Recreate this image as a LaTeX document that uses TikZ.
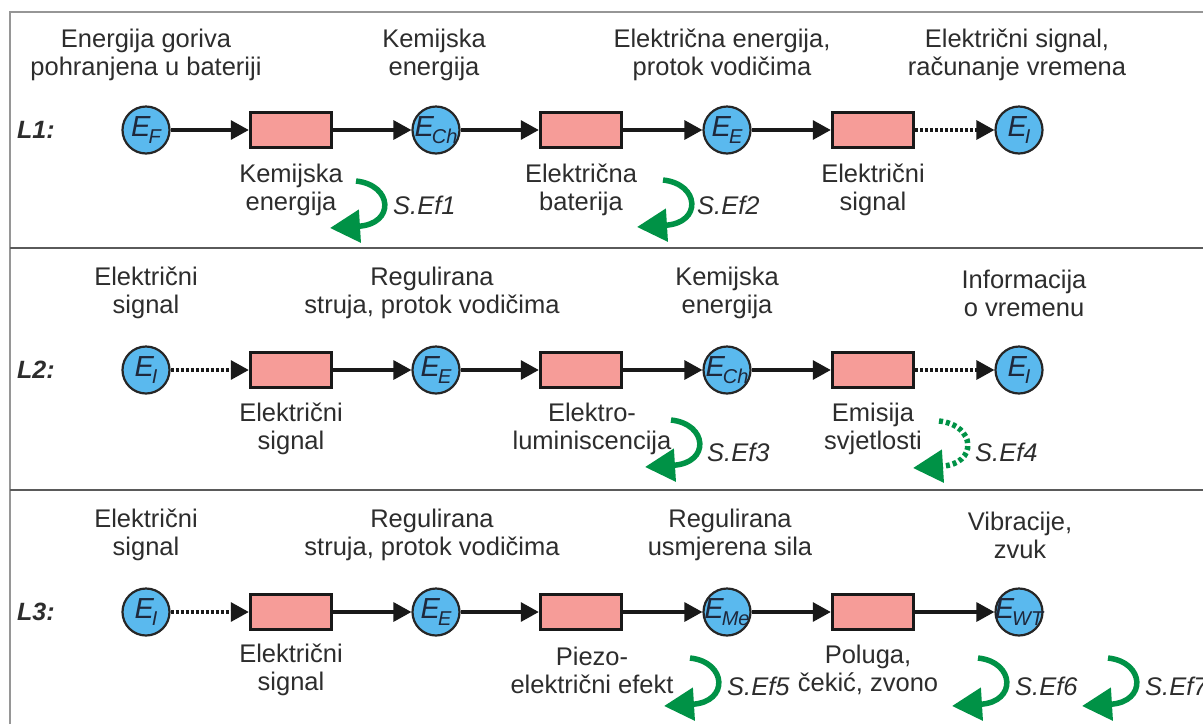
\documentclass[tikz,border=0pt]{standalone}
\usepackage{fontspec}
\setmainfont{Liberation Sans}
\usetikzlibrary{arrows.meta}
\definecolor{cblue}{RGB}{90,185,238}
\definecolor{cpink}{RGB}{246,156,152}
\definecolor{cgreen}{RGB}{0,146,70}
\definecolor{tgrey}{RGB}{45,45,45}
\definecolor{ecol}{RGB}{30,40,60}
\definecolor{frameA}{RGB}{150,150,150}
\definecolor{frameB}{RGB}{90,90,90}
\newcommand{\Esub}[1]{E\hspace{-2pt}\raisebox{-7pt}{\fontsize{20}{20}\selectfont #1}}
\begin{document}
\begin{tikzpicture}[x=1pt,y=-1pt,
  en/.style={circle, draw=black!85, line width=2.2pt, fill=cblue, minimum size=47pt, inner sep=0pt},
  elbl/.style={text=ecol, font=\fontsize{29}{29}\selectfont\itshape, inner sep=0pt},
  cbox/.style={rectangle, draw=black!90, line width=3.4pt, fill=cpink, minimum width=81pt, minimum height=35pt, inner sep=0pt},
  flow/.style={line width=3.2pt, black!90, -{Triangle[length=18pt,width=19pt]}},
  dflow/.style={flow, dash pattern=on 3pt off 2pt},
  lbl/.style={align=center, text=tgrey, font=\fontsize{25.5}{28}\selectfont, inner sep=0pt},
  rowlbl/.style={text=tgrey, font=\fontsize{25}{28}\selectfont\bfseries\itshape, inner sep=0pt, anchor=west},
  eff/.style={line width=5.5pt, draw=cgreen, -{Triangle[length=30pt,width=32pt]}},
  deff/.style={eff, dash pattern=on 4pt off 3pt},
  efl/.style={text=tgrey, font=\fontsize{25.5}{28}\selectfont\itshape, inner sep=0pt, anchor=west},
  frA/.style={line width=2pt, draw=frameA},
  frB/.style={line width=2pt, draw=frameB}
]
\useasboundingbox (0,0) rectangle (1203,724);
\fill[white] (0,0) rectangle (1203,724);
% frame
\draw[frA] (10,724) -- (10,12) -- (1210,12);
\draw[frB] (10,248) -- (1210,248);
\draw[frB] (10,490) -- (1210,490);

% ---------- Row 1 ----------
\node[rowlbl] (L1) at (17,130) {L1:};
\node[en, label={[elbl]center:\Esub{F}}] (a1) at (146,130) {};
\node[cbox] (a2) at (291,130) {};
\node[en, label={[elbl]center:\Esub{Ch}}] (a3) at (436,130) {};
\node[cbox] (a4) at (581,130) {};
\node[en, label={[elbl]center:\Esub{E}}] (a5) at (727,130) {};
\node[cbox] (a6) at (873,130) {};
\node[en, label={[elbl]center:\Esub{I}}] (a7) at (1019,130) {};
\draw[flow] (a1) -- (a2);
\draw[flow] (a2) -- (a3);
\draw[flow] (a3) -- (a4);
\draw[flow] (a4) -- (a5);
\draw[flow] (a5) -- (a6);
\draw[dflow] (a6) -- (a7);
\node[lbl] (t11) at (146,55) {Energija goriva\\pohranjena u bateriji};
\node[lbl] (t12) at (434,55) {Kemijska\\energija};
\node[lbl] (t13) at (722,55) {Električna energija,\\protok vodičima};
\node[lbl] (t14) at (1017,55) {Električni signal,\\računanje vremena};
\node[lbl] (u11) at (291,190) {Kemijska\\energija};
\node[lbl] (u12) at (581,190) {Električna\\baterija};
\node[lbl] (u13) at (873,190) {Električni\\signal};
\coordinate (g1) at (330,228);
\draw[eff, shift={(g1)}] (26,-47) .. controls (63,-43) and (65,-4) .. (0,0);
\node[efl] (s1) at (393,205) {S.Ef1};
\coordinate (g2) at (637,227);
\draw[eff, shift={(g2)}] (26,-47) .. controls (63,-43) and (65,-4) .. (0,0);
\node[efl] (s2) at (697,205) {S.Ef2};

% ---------- Row 2 ----------
\node[rowlbl] (L2) at (17,370) {L2:};
\node[en, label={[elbl]center:\Esub{I}}] (b1) at (146,370) {};
\node[cbox] (b2) at (291,370) {};
\node[en, label={[elbl]center:\Esub{E}}] (b3) at (436,370) {};
\node[cbox] (b4) at (581,370) {};
\node[en, label={[elbl]center:\Esub{Ch}}] (b5) at (727,370) {};
\node[cbox] (b6) at (873,370) {};
\node[en, label={[elbl]center:\Esub{I}}] (b7) at (1019,370) {};
\draw[dflow] (b1) -- (b2);
\draw[flow] (b2) -- (b3);
\draw[flow] (b3) -- (b4);
\draw[flow] (b4) -- (b5);
\draw[flow] (b5) -- (b6);
\draw[dflow] (b6) -- (b7);
\node[lbl] (t21) at (146,293) {Električni\\signal};
\node[lbl] (t22) at (432,293) {Regulirana\\struja, protok vodičima};
\node[lbl] (t23) at (727,293) {Kemijska\\energija};
\node[lbl] (t24) at (1024,293) {Informacija\\o vremenu};
\node[lbl] (u21) at (291,429) {Električni\\signal};
\node[lbl] (u22) at (592,429) {Elektro-\\luminiscencija};
\node[lbl] (u23) at (873,429) {Emisija\\svjetlosti};
\coordinate (g3) at (645,467);
\draw[eff, shift={(g3)}] (26,-47) .. controls (63,-43) and (65,-4) .. (0,0);
\node[efl] (s3) at (707,452) {S.Ef3};
\coordinate (g4) at (913,468);
\draw[deff, shift={(g4)}] (26,-47) .. controls (63,-43) and (65,-4) .. (0,0);
\node[efl] (s4) at (975,452) {S.Ef4};

% ---------- Row 3 ----------
\node[rowlbl] (L3) at (17,612) {L3:};
\node[en, label={[elbl]center:\Esub{I}}] (c1) at (146,612) {};
\node[cbox] (c2) at (291,612) {};
\node[en, label={[elbl]center:\Esub{E}}] (c3) at (436,612) {};
\node[cbox] (c4) at (581,612) {};
\node[en, label={[elbl]center:\Esub{Me}}] (c5) at (727,612) {};
\node[cbox] (c6) at (873,612) {};
\node[en, label={[elbl]center:\Esub{WT}}] (c7) at (1019,612) {};
\draw[dflow] (c1) -- (c2);
\draw[flow] (c2) -- (c3);
\draw[flow] (c3) -- (c4);
\draw[flow] (c4) -- (c5);
\draw[flow] (c5) -- (c6);
\draw[flow] (c6) -- (c7);
\node[lbl] (t31) at (146,535) {Električni\\signal};
\node[lbl] (t32) at (432,535) {Regulirana\\struja, protok vodičima};
\node[lbl] (t33) at (730,535) {Regulirana\\usmjerena sila};
\node[lbl] (t34) at (1020,535) {Vibracije,\\zvuk};
\node[lbl] (u31) at (291,670) {Električni\\signal};
\node[lbl] (u32) at (592,670) {Piezo-\\električni efekt};
\node[lbl] (u33) at (868,670) {Poluga,\\čekić, zvono};
\coordinate (g5) at (664,706);
\draw[eff, shift={(g5)}] (26,-48) .. controls (63,-44) and (65,-4) .. (0,0);
\node[efl] (s5) at (727,686) {S.Ef5};
\coordinate (g6) at (952,706);
\draw[eff, shift={(g6)}] (26,-48) .. controls (63,-44) and (65,-4) .. (0,0);
\node[efl] (s6) at (1015,686) {S.Ef6};
\coordinate (g7) at (1082,706);
\draw[eff, shift={(g7)}] (26,-48) .. controls (63,-44) and (65,-4) .. (0,0);
\node[efl] (s7) at (1145,686) {S.Ef7};
\end{tikzpicture}
\end{document}
